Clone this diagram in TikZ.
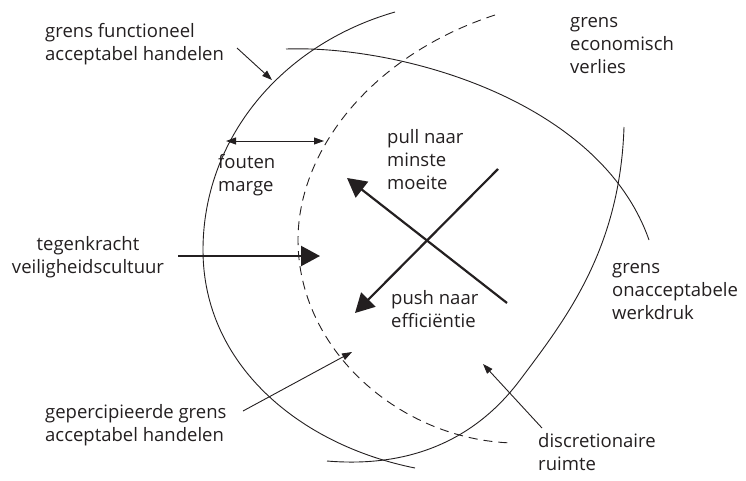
\documentclass[tikz,border=0pt]{standalone}
\usepackage{fontspec}
\setmainfont{Open Sans}
\usetikzlibrary{arrows.meta}
\definecolor{ink}{HTML}{231F20}
\begin{document}
\begin{tikzpicture}[x=1pt,y=-1pt,
  lbl/.style={font=\fontsize{18.5}{23}\selectfont, text=ink, align=left, inner sep=0pt, anchor=west},
  curve/.style={draw=ink, line width=0.9pt},
  dashcurve/.style={curve, dash pattern=on 9pt off 6pt},
  thinarrow/.style={draw=ink, line width=0.9pt, -{Triangle[length=10pt,width=7pt]}},
  thinboth/.style={draw=ink, line width=0.9pt, {Triangle[length=10pt,width=7pt]}-{Triangle[length=10pt,width=7pt]}},
  bigarrow/.style={draw=ink, line width=2.2pt, -{Triangle[length=19pt,width=20pt]}}]
\useasboundingbox (0,0) rectangle (746,480);

% curves
\draw[curve] (395,12) .. controls (280,45) and (203,140) .. (203,250)
                      .. controls (203,365) and (300,445) .. (415,468);
\draw[dashcurve] (495,15) .. controls (372,55) and (298,150) .. (298,240)
                      .. controls (298,350) and (400,440) .. (513,443);
\draw[curve] (286,49) .. controls (400,45) and (600,100) .. (649,240);
\draw[curve] (327,461) .. controls (410,468) and (475,440) .. (520,380)
                      .. controls (565,320) and (620,250) .. (624,127);

% labels
\node[lbl] (gfa) at (45,44) {grens functioneel\\acceptabel handelen};
\node[lbl] (gev) at (570,46) {grens\\economisch\\verlies};
\node[lbl] (fm) at (218,175) {fouten\\marge};
\node[lbl] (pull) at (387,160) {pull naar\\minste\\moeite};
\node[lbl, anchor=center, align=center] (tv) at (88,257) {tegenkracht\\veiligheidscultuur};
\node[lbl] (push) at (391,309) {push naar\\efficiëntie};
\node[lbl] (gow) at (612,292) {grens\\onacceptabele\\werkdruk};
\node[lbl] (gpg) at (45,425) {gepercipieerde grens\\acceptabel handelen};
\node[lbl] (dr) at (538,452) {discretionaire\\ruimte};

% connector ends
\coordinate (a1s) at (237,48);   \coordinate (a1e) at (272,80);
\coordinate (fml) at (226,141);  \coordinate (fmr) at (324,141);
\coordinate (x1s) at (498,169);  \coordinate (x1e) at (355,313);
\coordinate (x2s) at (507,303);  \coordinate (x2e) at (347,178);
\coordinate (tvs) at (178,256);  \coordinate (tve) at (320,256);
\coordinate (a8s) at (243,411);  \coordinate (a8e) at (352,352);
\coordinate (a9s) at (542,428);  \coordinate (a9e) at (483,364);

\draw[thinarrow] (a1s) -- (a1e);
\draw[thinboth] (fml) -- (fmr);
\draw[bigarrow] (x1s) -- (x1e);
\draw[bigarrow] (x2s) -- (x2e);
\draw[bigarrow] (tvs) -- (tve);
\draw[thinarrow] (a8s) -- (a8e);
\draw[thinarrow] (a9s) -- (a9e);
\end{tikzpicture}
\end{document}
